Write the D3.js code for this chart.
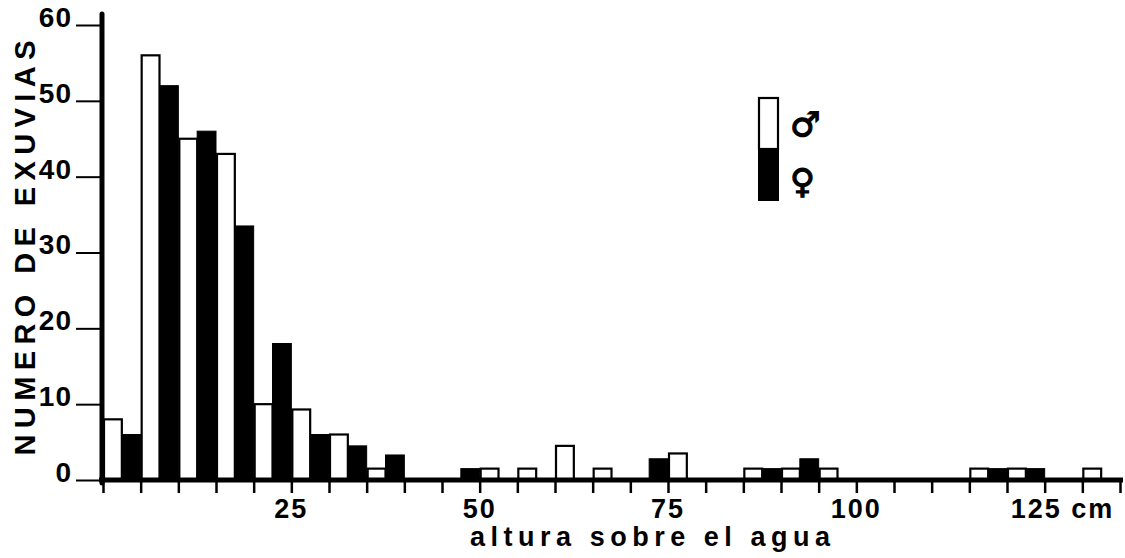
<!DOCTYPE html>
<html lang="es">
<head>
<meta charset="utf-8">
<title>Exuvias por altura</title>
<script src="https://d3js.org/d3.v7.min.js"></script>
<style>
  body { margin: 0; background: #fff; }
  svg { display: block; }
</style>
</head>
<body>
<script>
// lower edge of each 5 cm class (cm)
var binStart = [0, 5, 10, 15, 20, 25, 30, 35, 40, 45, 50, 55, 60, 65, 70, 75, 80, 85, 90, 95, 100, 105, 110, 115, 120, 125, 130];
// number of exuviae, males (white bars)
var male   = [8, 56, 45, 43, 10, 9.3, 6, 1.5, 0, 0, 1.5, 1.5, 4.5, 1.5, 0, 3.5, 0, 1.5, 1.5, 1.5, 0, 0, 0, 1.5, 1.5, 0, 1.5];
// number of exuviae, females (black bars)
var female = [6, 52, 46, 33.5, 18, 6, 4.5, 3.3, 0, 1.5, 0, 0, 0, 0, 2.8, 0, 0, 1.5, 2.8, 0, 0, 0, 0, 1.5, 1.5, 0, 0];

var yTicks = [0, 10, 20, 30, 40, 50, 60];
var xTickLabels = [25, 50, 75, 100, 125];

var w = 1125, h = 558;
var binW = 5;

var x = d3.scaleLinear().domain([0, 135]).range([103, 1120]);
var y = d3.scaleLinear().domain([0, 60]).range([480, 25]);

var svg = d3.select("body").append("svg").attr("width", w).attr("height", h);
svg.append("rect").attr("width", w).attr("height", h).attr("fill", "white");

var rows = binStart.map(function(s, i) { return { s: s, m: male[i], f: female[i] }; });

// female bars (black)
svg.append("g").selectAll("rect").data(rows.filter(function(d) { return d.f > 0; }))
  .enter().append("rect")
  .attr("x", function(d) { return x(d.s + binW / 2); })
  .attr("y", function(d) { return y(d.f); })
  .attr("width", function(d) { return x(d.s + binW) - x(d.s + binW / 2); })
  .attr("height", function(d) { return y(0) - y(d.f); })
  .attr("fill", "black").attr("stroke", "black").attr("stroke-width", 1);

// male bars (white, outlined)
svg.append("g").selectAll("rect").data(rows.filter(function(d) { return d.m > 0; }))
  .enter().append("rect")
  .attr("x", function(d) { return x(d.s) + 1; })
  .attr("y", function(d) { return y(d.m); })
  .attr("width", function(d) { return x(d.s + binW / 2) - x(d.s) - 1; })
  .attr("height", function(d) { return y(0) - y(d.m); })
  .attr("fill", "white").attr("stroke", "black").attr("stroke-width", 2.2);

// x axis
var xAxis = d3.axisBottom(x).tickValues(d3.range(0, 136, 5)).tickSize(12).tickSizeOuter(0).tickFormat("");
var gx = svg.append("g").attr("transform", "translate(0,481)").call(xAxis);
gx.select(".domain").remove();
gx.selectAll(".tick line").attr("stroke", "black").attr("stroke-width", 2.5);
svg.append("line").attr("x1", 99).attr("x2", 1123).attr("y1", 480).attr("y2", 480)
  .attr("stroke", "black").attr("stroke-width", 5);

// y axis
var yAxis = d3.axisLeft(y).tickValues(yTicks).tickSize(24).tickSizeOuter(0).tickPadding(4);
var gy = svg.append("g").attr("transform", "translate(100,0)").call(yAxis);
gy.select(".domain").remove();
gy.selectAll(".tick line").attr("stroke", "black").attr("stroke-width", 2);
gy.selectAll(".tick text")
  .attr("font-family", "'Liberation Sans', Arial, sans-serif")
  .attr("font-weight", "bold").attr("font-size", 28).attr("fill", "black")
  .attr("letter-spacing", 1)
  .attr("dy", "0.05em");
svg.append("line").attr("x1", 102).attr("x2", 102).attr("y1", 14).attr("y2", 483)
  .attr("stroke", "black").attr("stroke-width", 5).attr("stroke-linecap", "round");

// x tick labels
svg.append("g").selectAll("text").data(xTickLabels).enter().append("text")
  .attr("x", function(d) { return d === 125 ? x(d) - 34 : x(d); })
  .attr("y", 518)
  .attr("text-anchor", function(d) { return d === 125 ? "start" : "middle"; })
  .attr("font-family", "'Liberation Sans Narrow', 'Arial Narrow', 'Liberation Sans', sans-serif")
  .attr("font-weight", "bold").attr("font-size", 27).attr("letter-spacing", 2)
  .text(function(d) { return d === 125 ? "125 cm" : d; });

// axis titles
svg.append("text")
  .attr("x", 650).attr("y", 546).attr("text-anchor", "middle")
  .attr("font-family", "'Liberation Sans', Arial, sans-serif")
  .attr("font-weight", "bold").attr("font-size", 27)
  .attr("textLength", 360).attr("lengthAdjust", "spacing")
  .text("altura sobre el agua");

svg.append("text")
  .attr("transform", "translate(35,248) rotate(-90)")
  .attr("text-anchor", "middle")
  .attr("font-family", "'Liberation Sans', Arial, sans-serif")
  .attr("font-weight", "bold").attr("font-size", 29)
  .attr("textLength", 415).attr("lengthAdjust", "spacing")
  .text("NUMERO DE EXUVIAS");

// legend
var lg = svg.append("g");
lg.append("rect").attr("x", 759).attr("y", 98).attr("width", 19).attr("height", 51)
  .attr("fill", "white").attr("stroke", "black").attr("stroke-width", 2.2);
lg.append("rect").attr("x", 758).attr("y", 148).attr("width", 21).attr("height", 53)
  .attr("fill", "black");
lg.append("text").attr("x", 790).attr("y", 136)
  .attr("font-family", "'DejaVu Sans', sans-serif").attr("font-weight", "bold").attr("font-size", 34)
  .attr("stroke", "black").attr("stroke-width", 1.2)
  .text("\u2642");
lg.append("text").attr("x", 790).attr("y", 193)
  .attr("font-family", "'DejaVu Sans', sans-serif").attr("font-weight", "bold").attr("font-size", 34)
  .attr("stroke", "black").attr("stroke-width", 1.2)
  .text("\u2640");
</script>
</body>
</html>
